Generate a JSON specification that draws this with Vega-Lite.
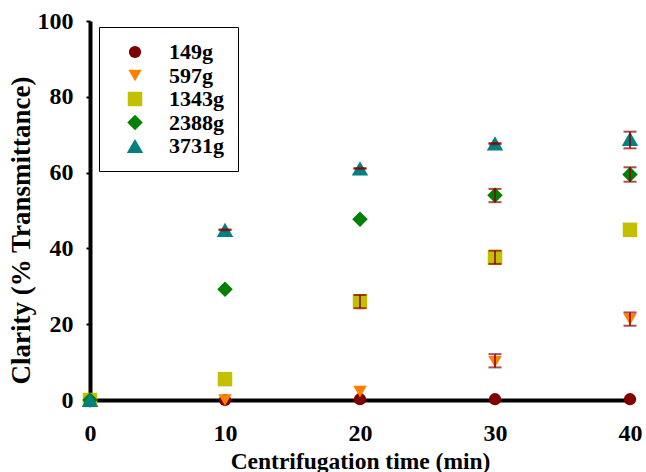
{
  "$schema": "https://vega.github.io/schema/vega-lite/v6.json",
  "width": 540,
  "height": 379,
  "autosize": {"type": "none"},
  "padding": {"left": 90, "top": 21, "right": 16, "bottom": 72},
  "background": "white",
  "config": {
    "font": "Liberation Serif",
    "view": {"stroke": null},
    "axis": {
      "grid": false,
      "labelFlush": false,
      "domainColor": "black",
      "domainWidth": 4,
      "tickColor": "black",
      "tickWidth": 2,
      "labelFont": "Liberation Serif",
      "labelFontWeight": "bold",
      "labelFontSize": 24,
      "labelColor": "black",
      "titleFont": "Liberation Serif",
      "titleFontWeight": "bold",
      "titleColor": "black"
    }
  },
  "data": {
    "values": [
      {"time": 0, "load": "149g", "clarity": 0},
      {"time": 10, "load": "149g", "clarity": 0},
      {"time": 20, "load": "149g", "clarity": 0.2},
      {"time": 30, "load": "149g", "clarity": 0.2},
      {"time": 40, "load": "149g", "clarity": 0.2},
      {"time": 0, "load": "597g", "clarity": 0},
      {"time": 10, "load": "597g", "clarity": 0},
      {"time": 20, "load": "597g", "clarity": 2.2},
      {"time": 30, "load": "597g", "clarity": 10.1, "lo": 8.6, "hi": 12.1},
      {"time": 40, "load": "597g", "clarity": 21.3, "lo": 19.6, "hi": 23.1},
      {"time": 0, "load": "1343g", "clarity": 0},
      {"time": 10, "load": "1343g", "clarity": 5.5},
      {"time": 20, "load": "1343g", "clarity": 26, "lo": 24.2, "hi": 27.7},
      {"time": 30, "load": "1343g", "clarity": 37.6, "lo": 35.9, "hi": 39.4},
      {"time": 40, "load": "1343g", "clarity": 44.9},
      {"time": 0, "load": "2388g", "clarity": 0},
      {"time": 10, "load": "2388g", "clarity": 29.2},
      {"time": 20, "load": "2388g", "clarity": 47.7},
      {"time": 30, "load": "2388g", "clarity": 54, "lo": 52.2, "hi": 55.7},
      {"time": 40, "load": "2388g", "clarity": 59.5, "lo": 57.6, "hi": 61.4},
      {"time": 0, "load": "3731g", "clarity": 0},
      {"time": 10, "load": "3731g", "clarity": 44.9, "lo": 44.8, "hi": 45.0},
      {"time": 20, "load": "3731g", "clarity": 61.1, "lo": 61.0, "hi": 61.2},
      {"time": 30, "load": "3731g", "clarity": 67.7, "lo": 67.5, "hi": 67.8},
      {"time": 40, "load": "3731g", "clarity": 68.9, "lo": 66.4, "hi": 70.8}
    ]
  },
  "layer": [
    {
      "mark": {"type": "point", "filled": true, "opacity": 1, "clip": false},
      "encoding": {
        "x": {
          "field": "time",
          "type": "quantitative",
          "scale": {"domain": [0, 40], "nice": false, "zero": false},
          "axis": {
            "title": "Centrifugation time (min)",
            "titleFontSize": 23.5,
            "values": [0, 10, 20, 30, 40],
            "ticks": false,
            "labelPadding": 21,
            "titlePadding": 4
          }
        },
        "y": {
          "field": "clarity",
          "type": "quantitative",
          "scale": {"domain": [0, 100], "nice": false},
          "axis": {
            "title": "Clarity (% Transmittance)",
            "titleFontSize": 27,
            "titleY": 209,
            "values": [0, 20, 40, 60, 80, 100],
            "tickSize": 4,
            "labelPadding": 13,
            "titlePadding": 2
          }
        },
        "color": {
          "field": "load",
          "type": "nominal",
          "sort": ["149g", "597g", "1343g", "2388g", "3731g"],
          "scale": {
            "domain": ["149g", "597g", "1343g", "2388g", "3731g"],
            "range": ["#800000", "#ff8000", "#c2c000", "#008000", "#008080"]
          },
          "legend": {
            "title": null,
            "orient": "none",
            "legendX": 9,
            "legendY": 6,
            "strokeColor": "black",
            "fillColor": "white",
            "padding": 14,
            "rowPadding": 1.5,
            "symbolOffset": 11,
            "labelOffset": 23,
            "labelFont": "Liberation Serif",
            "labelFontWeight": "bold",
            "labelFontSize": 22,
            "labelColor": "black",
            "encode": {"legend": {"update": {"strokeWidth": {"value": 2}}}}
          }
        },
        "shape": {
          "field": "load",
          "type": "nominal",
          "sort": ["149g", "597g", "1343g", "2388g", "3731g"],
          "scale": {
            "domain": ["149g", "597g", "1343g", "2388g", "3731g"],
            "range": ["circle", "triangle-down", "square", "diamond", "triangle-up"]
          }
        },
        "size": {
          "field": "load",
          "type": "nominal",
          "sort": ["149g", "597g", "1343g", "2388g", "3731g"],
          "scale": {
            "domain": ["149g", "597g", "1343g", "2388g", "3731g"],
            "range": [150, 270, 170, 290, 270]
          }
        }
      }
    },
    {
      "transform": [{"filter": "isValid(datum.lo)"}],
      "mark": {"type": "rule", "color": "#8b0000", "strokeWidth": 1.5},
      "encoding": {
        "x": {"field": "time", "type": "quantitative"},
        "y": {"field": "lo", "type": "quantitative"},
        "y2": {"field": "hi"}
      }
    },
    {
      "transform": [{"filter": "isValid(datum.lo)"}],
      "mark": {"type": "tick", "color": "#8b0000", "orient": "horizontal", "size": 13, "thickness": 2},
      "encoding": {
        "x": {"field": "time", "type": "quantitative"},
        "y": {"field": "lo", "type": "quantitative"}
      }
    },
    {
      "transform": [{"filter": "isValid(datum.lo)"}],
      "mark": {"type": "tick", "color": "#8b0000", "orient": "horizontal", "size": 13, "thickness": 2},
      "encoding": {
        "x": {"field": "time", "type": "quantitative"},
        "y": {"field": "hi", "type": "quantitative"}
      }
    }
  ]
}
